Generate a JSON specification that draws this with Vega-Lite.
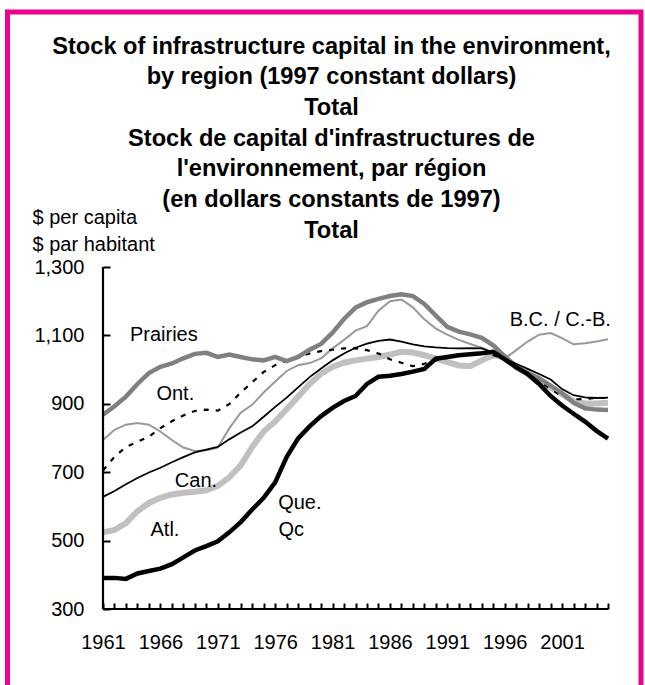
{
  "$schema": "https://vega.github.io/schema/vega-lite/v6.json",
  "width": 505,
  "height": 342,
  "autosize": {"type": "none"},
  "padding": {"left": 103, "top": 267, "right": 37, "bottom": 76},
  "background": "white",
  "config": {
    "font": "Liberation Sans",
    "view": {"stroke": null},
    "axis": {"grid": false, "domainColor": "black", "domainWidth": 2, "tickColor": "black", "labelColor": "black", "labelFont": "Liberation Sans", "labelFontSize": 20, "titleFont": "Liberation Sans", "titleColor": "black"}
  },
  "title": {
    "text": ["Stock of infrastructure capital in the environment,", "by region (1997 constant dollars)", "Total", "Stock de capital d'infrastructures de", "l'environnement, par région", "(en dollars constants de 1997)", "Total"],
    "font": "Liberation Sans",
    "fontSize": 23.6,
    "fontWeight": "bold",
    "color": "black",
    "lineHeight": 30.7,
    "anchor": "middle",
    "frame": "group",
    "dx": -24,
    "offset": -233
  },
  "layer": [
    {
      "data": {"values": [{"frame": "border"}]},
      "mark": {"type": "rect", "fill": null, "stroke": "#ec008c", "strokeWidth": 5, "clip": false},
      "encoding": {
        "x": {"value": -95.5},
        "x2": {"value": 538},
        "y": {"value": -255},
        "y2": {"value": 430}
      }
    },
    {
      "data": {"values": [
        {"year": 1961, "Prairies": 868, "Ont": 705, "BC": 794, "Can": 628, "Atl": 524, "Que": 391},
        {"year": 1962, "Prairies": 893, "Ont": 745, "BC": 824, "Can": 645, "Atl": 531, "Que": 391},
        {"year": 1963, "Prairies": 921, "Ont": 774, "BC": 839, "Can": 665, "Atl": 551, "Que": 388},
        {"year": 1964, "Prairies": 958, "Ont": 789, "BC": 844, "Can": 683, "Atl": 586, "Que": 404},
        {"year": 1965, "Prairies": 990, "Ont": 804, "BC": 839, "Can": 699, "Atl": 610, "Que": 411},
        {"year": 1966, "Prairies": 1008, "Ont": 829, "BC": 819, "Can": 713, "Atl": 625, "Que": 418},
        {"year": 1967, "Prairies": 1018, "Ont": 849, "BC": 794, "Can": 729, "Atl": 635, "Que": 431},
        {"year": 1968, "Prairies": 1033, "Ont": 866, "BC": 772, "Can": 744, "Atl": 640, "Que": 451},
        {"year": 1969, "Prairies": 1046, "Ont": 879, "BC": 762, "Can": 758, "Atl": 643, "Que": 471},
        {"year": 1970, "Prairies": 1049, "Ont": 883, "BC": 764, "Can": 766, "Atl": 647, "Que": 484},
        {"year": 1971, "Prairies": 1037, "Ont": 880, "BC": 772, "Can": 774, "Atl": 660, "Que": 498},
        {"year": 1972, "Prairies": 1044, "Ont": 899, "BC": 828, "Can": 796, "Atl": 685, "Que": 524},
        {"year": 1973, "Prairies": 1037, "Ont": 933, "BC": 874, "Can": 816, "Atl": 720, "Que": 554},
        {"year": 1974, "Prairies": 1030, "Ont": 963, "BC": 897, "Can": 834, "Atl": 774, "Que": 591},
        {"year": 1975, "Prairies": 1027, "Ont": 993, "BC": 933, "Can": 862, "Atl": 819, "Que": 625},
        {"year": 1976, "Prairies": 1037, "Ont": 1013, "BC": 965, "Can": 891, "Atl": 849, "Que": 670},
        {"year": 1977, "Prairies": 1025, "Ont": 1027, "BC": 996, "Can": 918, "Atl": 884, "Que": 744},
        {"year": 1978, "Prairies": 1037, "Ont": 1038, "BC": 1013, "Can": 948, "Atl": 921, "Que": 799},
        {"year": 1979, "Prairies": 1058, "Ont": 1047, "BC": 1019, "Can": 978, "Atl": 958, "Que": 834},
        {"year": 1980, "Prairies": 1075, "Ont": 1054, "BC": 1033, "Can": 1003, "Atl": 988, "Que": 864},
        {"year": 1981, "Prairies": 1108, "Ont": 1058, "BC": 1062, "Can": 1027, "Atl": 1008, "Que": 888},
        {"year": 1982, "Prairies": 1148, "Ont": 1062, "BC": 1087, "Can": 1047, "Atl": 1020, "Que": 908},
        {"year": 1983, "Prairies": 1181, "Ont": 1062, "BC": 1114, "Can": 1064, "Atl": 1027, "Que": 923},
        {"year": 1984, "Prairies": 1197, "Ont": 1057, "BC": 1127, "Can": 1076, "Atl": 1032, "Que": 958},
        {"year": 1985, "Prairies": 1207, "Ont": 1047, "BC": 1172, "Can": 1084, "Atl": 1037, "Que": 979},
        {"year": 1986, "Prairies": 1215, "Ont": 1030, "BC": 1200, "Can": 1088, "Atl": 1044, "Que": 982},
        {"year": 1987, "Prairies": 1220, "Ont": 1020, "BC": 1205, "Can": 1082, "Atl": 1052, "Que": 987},
        {"year": 1988, "Prairies": 1215, "Ont": 1010, "BC": 1182, "Can": 1074, "Atl": 1050, "Que": 994},
        {"year": 1989, "Prairies": 1192, "Ont": 1017, "BC": 1147, "Can": 1068, "Atl": 1042, "Que": 1002},
        {"year": 1990, "Prairies": 1158, "Ont": 1027, "BC": 1120, "Can": 1065, "Atl": 1032, "Que": 1032},
        {"year": 1991, "Prairies": 1125, "Ont": 1034, "BC": 1102, "Can": 1063, "Atl": 1022, "Que": 1037},
        {"year": 1992, "Prairies": 1111, "Ont": 1040, "BC": 1087, "Can": 1062, "Atl": 1012, "Que": 1042},
        {"year": 1993, "Prairies": 1103, "Ont": 1044, "BC": 1075, "Can": 1063, "Atl": 1010, "Que": 1045},
        {"year": 1994, "Prairies": 1093, "Ont": 1047, "BC": 1064, "Can": 1062, "Atl": 1027, "Que": 1048},
        {"year": 1995, "Prairies": 1071, "Ont": 1042, "BC": 1050, "Can": 1050, "Atl": 1042, "Que": 1052},
        {"year": 1996, "Prairies": 1039, "Ont": 1032, "BC": 1032, "Can": 1032, "Atl": 1037, "Que": 1030},
        {"year": 1997, "Prairies": 1006, "Ont": 1007, "BC": 1057, "Can": 1017, "Atl": 1007, "Que": 1007},
        {"year": 1998, "Prairies": 991, "Ont": 987, "BC": 1082, "Can": 1002, "Atl": 987, "Que": 987},
        {"year": 1999, "Prairies": 975, "Ont": 967, "BC": 1102, "Can": 987, "Atl": 965, "Que": 958},
        {"year": 2000, "Prairies": 953, "Ont": 943, "BC": 1107, "Can": 971, "Atl": 948, "Que": 923},
        {"year": 2001, "Prairies": 931, "Ont": 923, "BC": 1092, "Can": 943, "Atl": 928, "Que": 895},
        {"year": 2002, "Prairies": 903, "Ont": 913, "BC": 1074, "Can": 925, "Atl": 908, "Que": 871},
        {"year": 2003, "Prairies": 887, "Ont": 914, "BC": 1077, "Can": 919, "Atl": 901, "Que": 848},
        {"year": 2004, "Prairies": 883, "Ont": 917, "BC": 1082, "Can": 917, "Atl": 901, "Que": 821},
        {"year": 2005, "Prairies": 882, "Ont": 917, "BC": 1089, "Can": 918, "Atl": 903, "Que": 798}
      ]},
      "encoding": {
        "x": {
          "field": "year", "type": "quantitative",
          "scale": {"domain": [1961, 2005], "nice": false, "zero": false},
          "axis": {
            "title": null,
            "values": [1961,1962,1963,1964,1965,1966,1967,1968,1969,1970,1971,1972,1973,1974,1975,1976,1977,1978,1979,1980,1981,1982,1983,1984,1985,1986,1987,1988,1989,1990,1991,1992,1993,1994,1995,1996,1997,1998,1999,2000,2001,2002,2003,2004,2005],
            "format": "d",
            "labelExpr": "(datum.value - 1961) % 5 == 0 ? datum.label : ''",
            "labelFlush": false,
            "labelOverlap": false,
            "domain": false,
            "offset": -6,
            "ticks": true,
            "tickSize": 6,
            "tickWidth": 2,
            "labelPadding": 23,
            "zindex": 1
          }
        },
        "y": {
          "field": "value", "type": "quantitative",
          "scale": {"domain": [300, 1300], "nice": false, "zero": false},
          "axis": {
            "title": ["$ per capita", "$ par habitant"],
            "values": [300, 500, 700, 900, 1100, 1300],
            "format": ",d",
            "domain": false,
            "offset": -7,
            "ticks": true,
            "tickSize": 7,
            "tickWidth": 2,
            "labelPadding": 19,
            "titleAngle": 0,
            "titleAlign": "left",
            "titleBaseline": "alphabetic",
            "titleX": -78,
            "titleY": -44,
            "titleFontSize": 20,
            "titleFontWeight": "normal",
            "titleLineHeight": 27,
            "zindex": 1
          }
        }
      },
      "layer": [
        {"transform": [{"fold": ["Atl"], "as": ["region", "value"]}], "mark": {"type": "line", "color": "#c0c0c0", "strokeWidth": 6}},
        {"transform": [{"fold": ["BC"], "as": ["region", "value"]}], "mark": {"type": "line", "color": "#999999", "strokeWidth": 2}},
        {"transform": [{"fold": ["Ont"], "as": ["region", "value"]}], "mark": {"type": "line", "color": "black", "strokeWidth": 2.2, "strokeDash": [5, 7]}},
        {"transform": [{"fold": ["Prairies"], "as": ["region", "value"]}], "mark": {"type": "line", "color": "#808080", "strokeWidth": 4.5}},
        {"transform": [{"fold": ["Can"], "as": ["region", "value"]}], "mark": {"type": "line", "color": "black", "strokeWidth": 1.8}},
        {"transform": [{"fold": ["Que"], "as": ["region", "value"]}], "mark": {"type": "line", "color": "black", "strokeWidth": 4.5}},
        {
          "data": {"values": [
            {"year": 1961, "value": 300, "yearEnd": 1961, "valueEnd": 1300},
            {"year": 1961, "value": 300, "yearEnd": 2005, "valueEnd": 300}
          ]},
          "mark": {"type": "rule", "color": "black", "strokeWidth": 2.2},
          "encoding": {"x2": {"field": "yearEnd"}, "y2": {"field": "valueEnd"}}
        },
        {
          "data": {"values": [
            {"label": "Prairies", "year": 1966.3, "value": 1085},
            {"label": "Ont.", "year": 1967.3, "value": 910},
            {"label": "Can.", "year": 1969.1, "value": 658},
            {"label": "Atl.", "year": 1966.4, "value": 512},
            {"label": "Que.", "year": 1978.15, "value": 592},
            {"label": "Qc", "year": 1977.4, "value": 512},
            {"label": "B.C. / C.-B.", "year": 2000.84, "value": 1127}
          ]},
          "mark": {"type": "text", "font": "Liberation Sans", "fontSize": 20, "color": "black", "align": "center", "baseline": "alphabetic"},
          "encoding": {"text": {"field": "label"}}
        }
      ]
    }
  ]
}
